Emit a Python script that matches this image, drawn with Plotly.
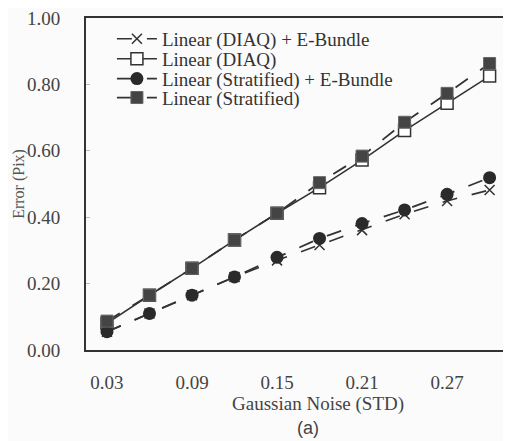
import plotly.graph_objects as go

noise = [0.03, 0.06, 0.09, 0.12, 0.15, 0.18, 0.21, 0.24, 0.27, 0.30]
diaq_eb = [0.055, 0.11, 0.165, 0.22, 0.27, 0.316, 0.361, 0.409, 0.449, 0.482]
diaq = [0.080, 0.165, 0.246, 0.331, 0.412, 0.489, 0.572, 0.661, 0.743, 0.825]
strat_eb = [0.055, 0.11, 0.165, 0.22, 0.279, 0.336, 0.381, 0.422, 0.469, 0.519]
strat = [0.087, 0.165, 0.246, 0.331, 0.412, 0.504, 0.584, 0.686, 0.773, 0.863]

x_ticks = [0.03, 0.09, 0.15, 0.21, 0.27]
y_ticks = [0.0, 0.2, 0.4, 0.6, 0.8, 1.0]

INK = "#333333"
SERIF = "Liberation Serif"
BG = "#fbfbfb"

fig = go.Figure()
fig.add_trace(go.Scatter(
    x=noise, y=diaq_eb, name="Linear (DIAQ) + E-Bundle", mode="lines+markers", legend="legend",
    line=dict(color=INK, width=1.6, dash="longdash"),
    marker=dict(symbol="x-thin", size=10, line=dict(color=INK, width=1.5))))
fig.add_trace(go.Scatter(
    x=noise, y=diaq, name="Linear (DIAQ)", mode="lines+markers", legend="legend2",
    line=dict(color=INK, width=1.6),
    marker=dict(symbol="square", size=12, color="white", line=dict(color=INK, width=1.5))))
fig.add_trace(go.Scatter(
    x=noise, y=strat_eb, name="Linear (Stratified) + E-Bundle", mode="lines+markers", legend="legend3",
    line=dict(color=INK, width=1.8, dash="longdash"),
    marker=dict(symbol="circle", size=13, color="#2a2a2a")))
fig.add_trace(go.Scatter(
    x=noise, y=strat, name="Linear (Stratified)", mode="lines+markers", legend="legend4",
    line=dict(color=INK, width=1.8, dash="longdash"),
    marker=dict(symbol="square", size=12, color="#444444", line=dict(color="#666", width=1))))

def leg(y):
    return dict(x=0.061, y=y, xanchor="left", yanchor="middle",
                font=dict(family=SERIF, size=19, color=INK),
                bgcolor="rgba(0,0,0,0)", borderwidth=0, itemwidth=40)

fig.update_layout(
    width=503, height=433,
    margin=dict(l=78, r=0, t=8, b=91),
    paper_bgcolor=BG, plot_bgcolor=BG,
    font=dict(family=SERIF, size=19, color=INK),
    showlegend=True,
    legend=leg(0.937), legend2=leg(0.877), legend3=leg(0.817), legend4=leg(0.760),
    xaxis=dict(range=[0.0152, 0.3151], tickvals=x_ticks, ticktext=[f"{v:.2f}" for v in x_ticks],
               showline=True, linecolor=INK, linewidth=2, mirror=True,
               showgrid=False, zeroline=False, ticks="", ticklabelstandoff=14,
               ticklabeloverflow="allow",
               tickfont=dict(family=SERIF, size=19, color="#444")),
    yaxis=dict(range=[0, 1.0], tickvals=y_ticks, ticktext=[f"{v:.2f}" for v in y_ticks],
               showline=True, linecolor=INK, linewidth=2, mirror=False,
               showgrid=False,
               zeroline=False, ticks="inside", ticklen=4, tickcolor="#bbb",
               ticklabelstandoff=20, ticklabeloverflow="allow",
               tickfont=dict(family=SERIF, size=19, color="#444")),
    annotations=[
        dict(text="Gaussian Noise (STD)", xref="paper", yref="paper", x=0.546, y=-0.163,
             xanchor="center", yanchor="middle", showarrow=False,
             font=dict(family=SERIF, size=19, color="#444")),
        dict(text="(a)", xref="paper", yref="paper", x=0.522, y=-0.236,
             xanchor="center", yanchor="middle", showarrow=False,
             font=dict(family="Liberation Sans", size=18, color="#444")),
        dict(text="Error (Pix)", xref="paper", yref="paper", x=-0.158, y=0.5,
             xanchor="center", yanchor="middle", showarrow=False, textangle=-90,
             font=dict(family=SERIF, size=16, color="#555")),
    ],
)

fig.write_html("out.html")
